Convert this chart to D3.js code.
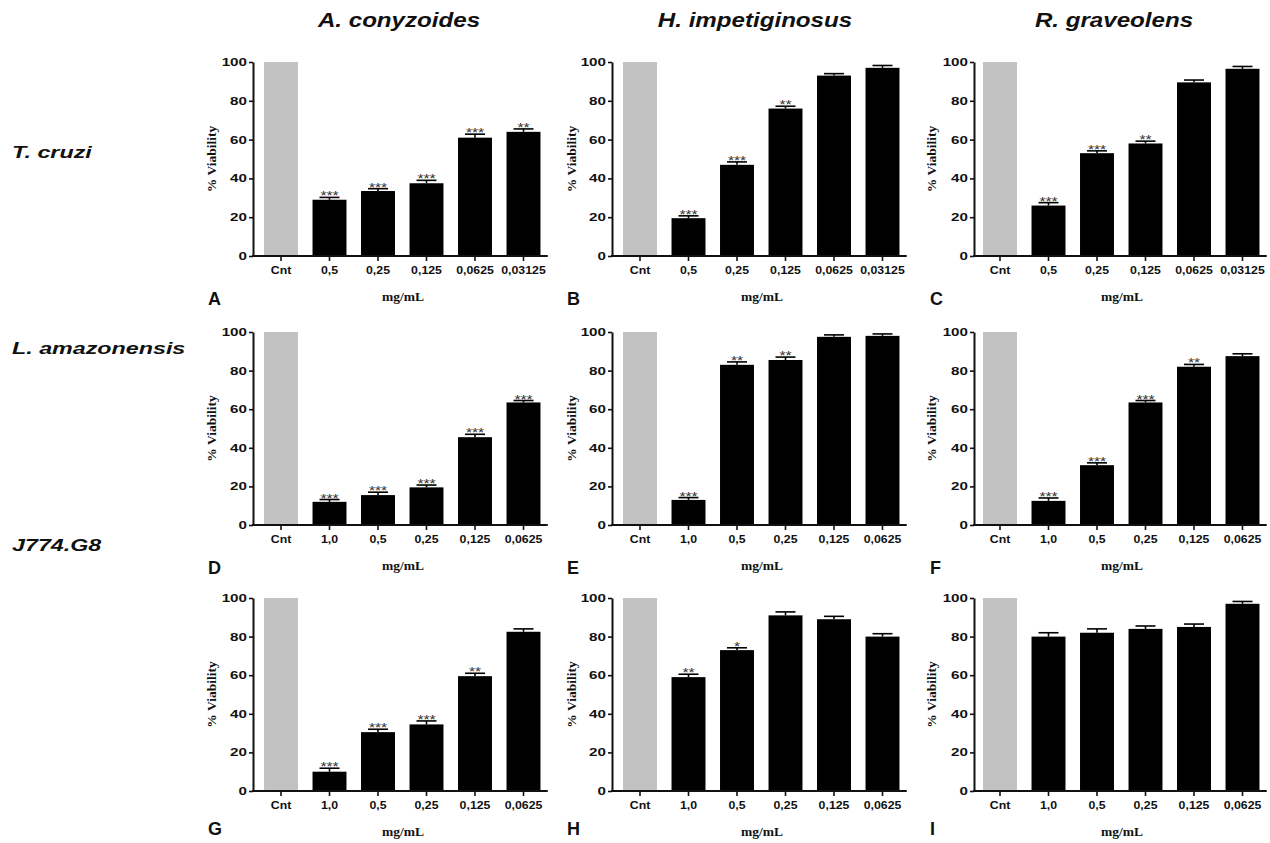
<!DOCTYPE html>
<html>
<head>
<meta charset="utf-8">
<script src="https://cdn.jsdelivr.net/npm/d3@7"></script>
<style>
  html, body { margin: 0; padding: 0; background: #fff; }
  svg { display: block; }
</style>
</head>
<body>
<svg id="chart" width="1270" height="843"></svg>
<script>
// ---------------- DATA ----------------
const colNames = ["A. conyzoides", "H. impetiginosus", "R. graveolens"];
const rowNames = ["T. cruzi", "L. amazonensis", "J774.G8"];
const panelLetters = ["A", "B", "C", "D", "E", "F", "G", "H", "I"];
const concRow1 = ["Cnt", "0,5", "0,25", "0,125", "0,0625", "0,03125"];
const concRow23 = ["Cnt", "1,0", "0,5", "0,25", "0,125", "0,0625"];
const yTicks = [0, 20, 40, 60, 80, 100];
const xTitle = "mg/mL";
const yTitle = "% Viability";

// values (% viability), first entry is the control (Cnt)
const valuesA = [100, 29, 33.5, 37.5, 61, 64];
const valuesB = [100, 19.5, 47, 76, 93, 97];
const valuesC = [100, 26, 53, 58, 89.5, 96.5];
const valuesD = [100, 12, 15.5, 19.5, 45.5, 63.5];
const valuesE = [100, 13, 83, 85.5, 97.5, 98];
const valuesF = [100, 12.5, 31, 63.5, 82, 87.5];
const valuesG = [100, 10, 30.5, 34.5, 59.5, 82.5];
const valuesH = [100, 59, 73, 91, 89, 80];
const valuesI = [100, 80, 82, 84, 85, 97];

// error (SEM, upper bar)
const errA = [0, 1.2, 1.2, 1.5, 1.8, 1.5];
const errB = [0, 1.2, 1.5, 1.2, 1, 1.2];
const errC = [0, 1.5, 1.2, 1.2, 1.2, 1.2];
const errD = [0, 1.2, 1.5, 1.2, 1.5, 1];
const errE = [0, 1.2, 1.5, 1.5, 1, 1];
const errF = [0, 1.5, 1.2, 1, 1.2, 1.2];
const errG = [0, 1.8, 1.5, 1.8, 1.5, 1.5];
const errH = [0, 1.5, 1.2, 1.8, 1.5, 1.5];
const errI = [0, 2, 2, 1.5, 1.5, 1.2];

// significance marks
const starsA = ["", "***", "***", "***", "***", "**"];
const starsB = ["", "***", "***", "**", "", ""];
const starsC = ["", "***", "***", "**", "", ""];
const starsD = ["", "***", "***", "***", "***", "***"];
const starsE = ["", "***", "**", "**", "", ""];
const starsF = ["", "***", "***", "***", "**", ""];
const starsG = ["", "***", "***", "***", "**", ""];
const starsH = ["", "**", "*", "", "", ""];
const starsI = ["", "", "", "", "", ""];

const panelValues = [valuesA, valuesB, valuesC, valuesD, valuesE, valuesF, valuesG, valuesH, valuesI];
const panelErrors = [errA, errB, errC, errD, errE, errF, errG, errH, errI];
const panelStars = [starsA, starsB, starsC, starsD, starsE, starsF, starsG, starsH, starsI];

// ---------------- LAYOUT ----------------
const svg = d3.select("#chart");
const colAxisX = [253, 612, 974];
const colBandStart = [256.75, 615.75, 975.75];
const bandStep = 48.5;
const rowTop = [62, 332, 598];
const rowBottom = [256, 525, 791];
const colTitleX = [399, 755, 1114];
const colTitleY = 27;
const rowLabelY = [158, 354, 551];
const letterOffsetX = [-45, -45, -44];
const xTitleX = [403, 762, 1122];
const yTitleX = [211, 571, 931];

function stretch(sel, s) {
  sel.each(function () {
    const t = d3.select(this);
    const x = +t.attr("x") || 0;
    t.attr("x", 0).attr("transform", `translate(${x},0) scale(${s},1)`);
  });
}

// column titles
colNames.forEach((name, i) => {
  svg.append("text")
    .attr("transform", `translate(${colTitleX[i]},${colTitleY}) scale(1.15,1)`)
    .attr("text-anchor", "middle")
    .style("font-family", "Arial, 'Liberation Sans', sans-serif")
    .style("font-weight", "bold").style("font-style", "italic")
    .style("font-size", "21px").attr("fill", "#111")
    .text(name);
});

// row labels
rowNames.forEach((name, i) => {
  svg.append("text")
    .attr("transform", `translate(12,${rowLabelY[i]}) scale(1.37,1)`)
    .style("font-family", "Arial, 'Liberation Sans', sans-serif")
    .style("font-weight", "bold").style("font-style", "italic")
    .style("font-size", "17px").attr("fill", "#111")
    .text(name);
});

for (let r = 0; r < 3; r++) {
  for (let c = 0; c < 3; c++) {
    const idx = r * 3 + c;
    const cats = r === 0 ? concRow1 : concRow23;
    const vals = panelValues[idx];
    const errs = panelErrors[idx];
    const stars = panelStars[idx];

    const x = d3.scaleBand()
      .domain(cats)
      .range([colBandStart[c], colBandStart[c] + bandStep * cats.length])
      .paddingInner(0.3).paddingOuter(0.15);
    const y = d3.scaleLinear().domain([0, 100]).range([rowBottom[r], rowTop[r]]);

    const g = svg.append("g");
    const rows = cats.map((k, i) => ({ k, v: vals[i], e: errs[i], s: stars[i], i }));

    // bars
    g.selectAll("rect.bar")
      .data(rows)
      .join("rect")
      .attr("class", "bar")
      .attr("x", d => x(d.k))
      .attr("width", x.bandwidth())
      .attr("y", d => y(d.v))
      .attr("height", d => y(0) - y(d.v))
      .attr("fill", d => d.i === 0 ? "#c2c2c2" : "#000");

    // error bars
    const eb = g.selectAll("g.err")
      .data(rows.filter(d => d.e > 0))
      .join("g").attr("class", "err");
    eb.append("line")
      .attr("x1", d => x(d.k) + x.bandwidth() / 2)
      .attr("x2", d => x(d.k) + x.bandwidth() / 2)
      .attr("y1", d => y(d.v)).attr("y2", d => y(d.v + d.e))
      .attr("stroke", "#000").attr("stroke-width", 1.6);
    eb.append("line")
      .attr("x1", d => x(d.k) + x.bandwidth() / 2 - 10)
      .attr("x2", d => x(d.k) + x.bandwidth() / 2 + 10)
      .attr("y1", d => y(d.v + d.e)).attr("y2", d => y(d.v + d.e))
      .attr("stroke", "#000").attr("stroke-width", 1.6);

    // stars
    g.selectAll("text.star")
      .data(rows.filter(d => d.s))
      .join("text").attr("class", "star")
      .attr("transform", d => `translate(${x(d.k) + x.bandwidth() / 2},${y(d.v + d.e) + 3}) scale(1.3,1)`)
      .attr("text-anchor", "middle")
      .style("font-family", "Arial, 'Liberation Sans', sans-serif")
      .style("font-size", "12px").attr("fill", "#333")
      .text(d => d.s);

    // y axis
    const ya = g.append("g")
      .attr("transform", `translate(${colAxisX[c]},0)`)
      .call(d3.axisLeft(y).tickValues(yTicks).tickSize(4).tickSizeOuter(0).tickPadding(2));
    ya.select(".domain").attr("stroke", "#111").attr("stroke-width", 2);
    ya.selectAll(".tick line").attr("stroke", "#111").attr("stroke-width", 1.6);
    ya.selectAll(".tick text")
      .style("font-family", "Arial, 'Liberation Sans', sans-serif")
      .style("font-weight", "bold").style("font-size", "11px").attr("fill", "#111");
    stretch(ya.selectAll(".tick text"), 1.38);

    // x axis
    const xa = g.append("g")
      .attr("transform", `translate(0,${rowBottom[r]})`)
      .call(d3.axisBottom(x).tickSize(5).tickSizeOuter(0).tickPadding(5));
    xa.select(".domain").remove();
    xa.selectAll(".tick line").attr("stroke", "#111").attr("stroke-width", 1.6);
    xa.selectAll(".tick text")
      .style("font-family", "Arial, 'Liberation Sans', sans-serif")
      .style("font-weight", "bold").style("font-size", "11px").attr("fill", "#111");
    stretch(xa.selectAll(".tick text"), 1.12);
    g.append("line")
      .attr("x1", colAxisX[c] - 1).attr("x2", colBandStart[c] + bandStep * cats.length)
      .attr("y1", rowBottom[r]).attr("y2", rowBottom[r])
      .attr("stroke", "#111").attr("stroke-width", 2);

    // axis titles
    g.append("text")
      .attr("x", xTitleX[c]).attr("y", rowBottom[r] + 45)
      .attr("text-anchor", "middle")
      .style("font-family", "'Liberation Serif', 'Times New Roman', serif")
      .style("font-weight", "bold").style("font-size", "13.5px").attr("fill", "#111")
      .text(xTitle);
    g.append("text")
      .attr("transform", `translate(${yTitleX[c] + 5},${(rowTop[r] + rowBottom[r]) / 2}) rotate(-90)`)
      .attr("text-anchor", "middle")
      .style("font-family", "'Liberation Serif', 'Times New Roman', serif")
      .style("font-weight", "bold").style("font-size", "13.5px").attr("fill", "#111")
      .text(yTitle);

    // panel letter
    g.append("text")
      .attr("x", colAxisX[c] + letterOffsetX[c]).attr("y", rowBottom[r] + (r === 2 ? 44 : 49))
      .style("font-family", "Arial, 'Liberation Sans', sans-serif")
      .style("font-weight", "bold").style("font-size", "18px").attr("fill", "#111")
      .text(panelLetters[idx]);
  }
}
</script>
</body>
</html>
